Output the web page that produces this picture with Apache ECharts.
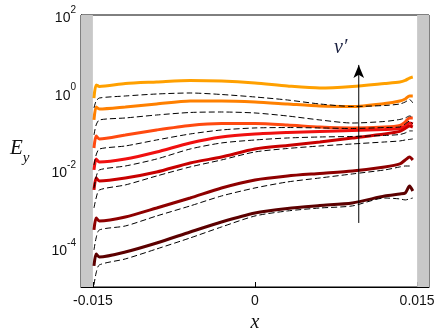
<!DOCTYPE html>
<html>
<head>
<meta charset="utf-8">
<script src="https://cdn.jsdelivr.net/npm/echarts@6/dist/echarts.min.js"></script>
<style>
  html, body { margin: 0; padding: 0; background: #fff; }
  #main { width: 443px; height: 333px; }
</style>
</head>
<body>
<div id="main"></div>
<script>
// x positions shared by every curve
var xs = [-0.0149, -0.0147, -0.0144, -0.012, -0.0091, -0.006, -0.0031, 0, 0.003, 0.006, 0.009, 0.012, 0.0134, 0.0139, 0.0143, 0.0146]

// solid curves, from the top (light orange) to the bottom (dark red)
var solid1 = [0.73, 1.58, 1.45, 1.73, 1.89, 2.07, 2.0, 1.78, 1.49, 1.32, 1.45, 1.73, 1.89, 2.07, 2.39, 2.54]
var solid2 = [0.199, 0.43, 0.381, 0.43, 0.513, 0.612, 0.612, 0.577, 0.513, 0.456, 0.443, 0.528, 0.612, 0.69, 0.824, 0.824]
var solid3 = [0.0378, 0.0771, 0.0646, 0.0817, 0.11, 0.144, 0.161, 0.161, 0.148, 0.131, 0.124, 0.131, 0.144, 0.177, 0.224, 0.224]
var solid4 = [0.0103, 0.0197, 0.0165, 0.0197, 0.0299, 0.0509, 0.0726, 0.0867, 0.0948, 0.101, 0.107, 0.113, 0.12, 0.139, 0.166, 0.157]
var solid5 = [0.00314, 0.0064, 0.00536, 0.0064, 0.00912, 0.0156, 0.0222, 0.0356, 0.0439, 0.054, 0.0684, 0.0867, 0.101, 0.12, 0.139, 0.131]
var solid6 = [0.000294, 0.000598, 0.000501, 0.000635, 0.00108, 0.00195, 0.00354, 0.00569, 0.0072, 0.00836, 0.00968, 0.0123, 0.0147, 0.0186, 0.0222, 0.0186]
var solid7 = [0.0000348, 0.0000708, 0.0000593, 0.0000798, 0.000136, 0.000261, 0.000472, 0.000804, 0.00105, 0.00125, 0.00146, 0.0022, 0.00248, 0.00263, 0.00398, 0.00296]

// dashed curves, each one just under its solid curve
var dash1 = [0.405, 0.612, 0.731, 0.824, 0.927, 0.984, 0.9, 0.776, 0.65, 0.513, 0.443, 0.469, 0.513, 0.577, 0.67, 0.545]
var dash2 = [0.0817, 0.148, 0.199, 0.224, 0.267, 0.31, 0.319, 0.301, 0.252, 0.199, 0.166, 0.182, 0.205, 0.224, 0.252, 0.238]
var dash3 = [0.0138, 0.025, 0.0356, 0.0426, 0.0608, 0.0867, 0.11, 0.124, 0.127, 0.124, 0.12, 0.127, 0.131, 0.157, 0.187, 0.157]
var dash4 = [0.00354, 0.00679, 0.0103, 0.013, 0.0197, 0.0356, 0.0509, 0.0608, 0.0684, 0.0726, 0.0748, 0.0794, 0.0841, 0.092, 0.104, 0.104]
var dash5 = [0.00108, 0.00195, 0.00314, 0.00423, 0.0072, 0.0123, 0.0186, 0.0299, 0.0367, 0.0426, 0.048, 0.054, 0.0573, 0.0608, 0.0627, 0.0646]
var dash6 = [0.0000897, 0.000183, 0.000294, 0.000372, 0.000673, 0.00122, 0.0022, 0.00354, 0.00505, 0.0064, 0.00811, 0.0103, 0.0123, 0.013, 0.013, 0.013]
var dash7 = [0.0000113, 0.000023, 0.000037, 0.0000527, 0.0000953, 0.000183, 0.000351, 0.000673, 0.000906, 0.00108, 0.00122, 0.00195, 0.00185, 0.00174, 0.00185, 0.00195]

var solids = [solid1, solid2, solid3, solid4, solid5, solid6, solid7]
var dashes = [dash1, dash2, dash3, dash4, dash5, dash6, dash7]
var colors = ['#ffa000', '#ff8000', '#ff4a10', '#f01010', '#c80000', '#8e0000', '#5c0000']

var xTicks = [-0.015, 0, 0.015]
// arrow for v'
var arrowX = [0.0096, 0.0096]
var arrowY = [0.000445, 5.2]

var font = 'Liberation Sans'
var serif = 'Liberation Serif'

function pairs(ys) {
  return xs.map(function (x, i) { return [x, ys[i]] })
}

var chart = echarts.init(document.getElementById('main'))

var series = []
solids.forEach(function (ys, i) {
  series.push({
    type: 'line',
    data: pairs(ys),
    showSymbol: false,
    smooth: 0.25,
    lineStyle: { color: colors[i], width: 3 },
    z: 3
  })
})
dashes.forEach(function (ys) {
  series.push({
    type: 'line',
    data: pairs(ys),
    showSymbol: false,
    smooth: 0.25,
    lineStyle: { color: '#000', width: 1, type: [6, 3] },
    z: 4
  })
})
// grey bands at both walls
series[0].markArea = {
  silent: true,
  itemStyle: { color: '#c8c8c8' },
  data: [
    [{ xAxis: -0.0161, yAxis: 1e-5 }, { xAxis: -0.015, yAxis: 1e2 }],
    [{ xAxis: 0.015, yAxis: 1e-5 }, { xAxis: 0.0161, yAxis: 1e2 }]
  ]
}
series.push({
  type: 'line',
  data: [
    { value: [arrowX[0], arrowY[0]], symbol: 'none' },
    { value: [arrowX[1], arrowY[1]], symbol: 'arrow', symbolSize: [8, 13] }
  ],
  lineStyle: { color: '#000', width: 1 },
  itemStyle: { color: '#000' },
  z: 5
})

var option = {
  animation: false,
  grid: {
    left: 81,
    right: 14,
    top: 15,
    bottom: 46,
    outerBoundsMode: 'none',
    show: true,
    borderColor: '#000',
    borderWidth: 1,
    backgroundColor: 'transparent'
  },
  xAxis: {
    type: 'value',
    min: -0.0161,
    max: 0.0161,
    name: 'x',
    nameLocation: 'middle',
    nameGap: 23,
    nameTextStyle: { fontFamily: serif, fontStyle: 'italic', fontSize: 20, color: '#111' },
    axisLine: { onZero: false, lineStyle: { color: '#000' } },
    axisTick: { inside: true, length: 5, customValues: xTicks, lineStyle: { color: '#000' } },
    axisLabel: {
      customValues: xTicks,
      margin: 7,
      fontFamily: font,
      fontSize: 14,
      color: '#111',
      formatter: function (v) { return v === 0 ? '0' : String(v) }
    },
    splitLine: { show: false }
  },
  yAxis: {
    type: 'log',
    logBase: 10,
    min: 1e-5,
    max: 1e2,
    axisLine: { onZero: false, lineStyle: { color: '#000' } },
    axisTick: { inside: true, length: 5, lineStyle: { color: '#000' } },
    axisLabel: {
      margin: 5,
      formatter: function (v) {
        var e = Math.round(Math.log10(v))
        if (e % 2 !== 0) return ''
        return '{b|10}{s|' + e + '}'
      },
      rich: {
        b: { fontFamily: font, fontSize: 14, color: '#111', lineHeight: 20, verticalAlign: 'bottom' },
        s: { fontFamily: font, fontSize: 10, color: '#111', lineHeight: 20, verticalAlign: 'top' }
      }
    },
    splitLine: { show: false }
  },
  graphic: [
    {
      type: 'text',
      left: 10,
      top: 138,
      style: {
        text: '{e|E}{y|y}',
        rich: {
          e: { fontFamily: serif, fontStyle: 'italic', fontSize: 21, fill: '#111', lineHeight: 28, verticalAlign: 'top' },
          y: { fontFamily: serif, fontStyle: 'italic', fontSize: 15, fill: '#111', lineHeight: 28, verticalAlign: 'bottom' }
        }
      }
    },
    {
      type: 'text',
      left: 334,
      top: 38,
      style: { text: 'v\u2032', fontFamily: serif, fontStyle: 'italic', fontSize: 20, fill: '#1a2040' }
    }
  ],
  series: series
}

chart.setOption(option)
</script>
</body>
</html>
